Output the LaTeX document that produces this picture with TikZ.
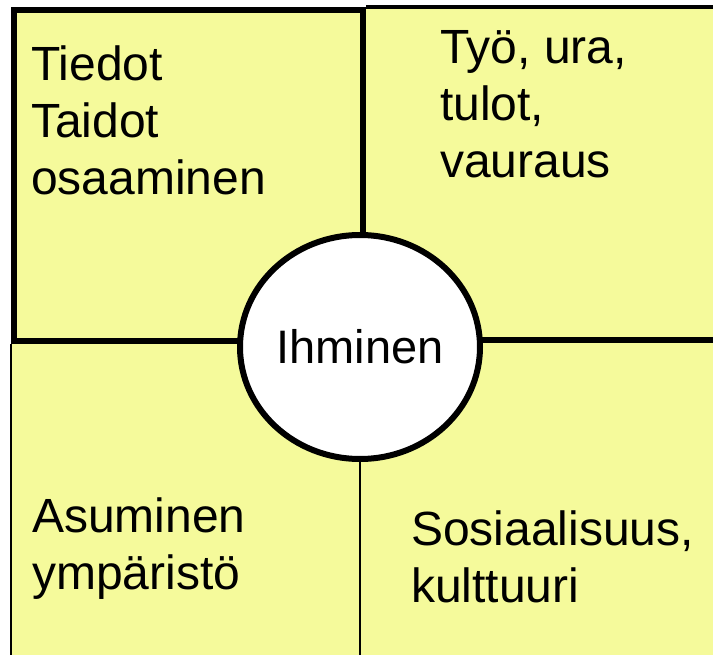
\documentclass[tikz,border=0pt]{standalone}
\usepackage{fontspec}
\setmainfont{Liberation Sans}
\usetikzlibrary{shapes.geometric}
\definecolor{boxyellow}{RGB}{245,250,155}
\begin{document}
\begin{tikzpicture}[x=1pt,y=-1pt,
  label/.style={anchor=north west,inner sep=0pt,align=left,font=\fontsize{48}{57}\selectfont},
  thick line/.style={line width=6pt},
  thin line/.style={line width=2pt}]
\useasboundingbox (0,0) rectangle (713,655);
% yellow background of the four fields
\fill[boxyellow] (11,7) rectangle (713,655);
% top-left field, thick frame
\node[draw,thick line,minimum width=349pt,minimum height=331pt,inner sep=0pt,anchor=north west] (tl) at (11,7) {};
% top border of the top-right field
\coordinate (tre) at (713,7);
\draw[line width=4.5pt] (tl.north east) -- (tre);
% border between right fields (starts hidden inside the ellipse)
\coordinate (rs) at (360,340);
\coordinate (re) at (713,340);
\draw[thick line] (rs) -- (re);
% left border of the bottom fields
\coordinate (blb) at (11,655);
\draw[thin line] (tl.south west) -- (blb);
% centre ellipse
\node[draw,fill=white,thick line,ellipse,minimum width=240pt,minimum height=224pt,inner sep=0pt,
      font=\fontsize{47}{55}\selectfont] (ih) at (360,347) {Ihminen};
\coordinate (bb) at (360,655);
\draw[thin line] (ih.south) -- (bb);
% texts
\node[label] (t1) at (31,46) {Tiedot\\Taidot\\osaaminen};
\node[label] (t2) at (440,30) {Työ, ura,\\tulot,\\vauraus};
\node[label] (t3) at (32,498) {Asuminen\\ympäristö};
\node[label] (t4) at (411,511) {Sosiaalisuus,\\kulttuuri};
\end{tikzpicture}
\end{document}
